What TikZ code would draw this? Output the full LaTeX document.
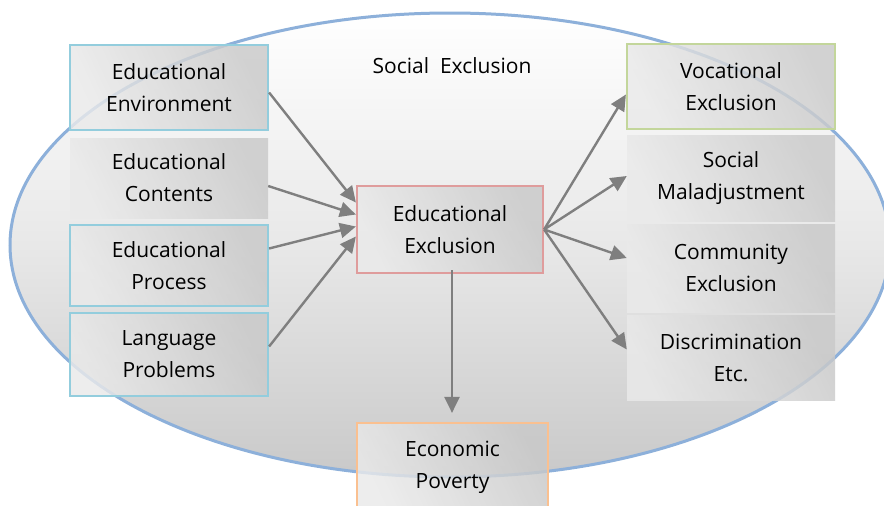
\documentclass[tikz,border=0pt]{standalone}
\usepackage{fontspec}
\setmainfont{Open Sans}
\usetikzlibrary{arrows.meta,calc}

\definecolor{ringblue}{HTML}{8DB0DA}
\definecolor{edgecyan}{HTML}{93CDDD}
\definecolor{edgerose}{HTML}{DF9C9C}
\definecolor{edgegreen}{HTML}{C3D69B}
\definecolor{edgepeach}{HTML}{FAC090}
\definecolor{arrowgray}{HTML}{7F7F7F}
\definecolor{boxlight}{HTML}{EAEAEA}
\definecolor{boxdark}{HTML}{C9C9C9}

\tikzset{
  card/.style={rectangle, inner sep=0pt, align=center,
    font=\fontsize{21}{32}\selectfont,
    left color=boxlight, right color=boxdark, shading angle=115,
    fill opacity=0.82, text opacity=1},
  framed/.style={draw=#1, line width=2.2pt, draw opacity=1},
  link/.style={draw=arrowgray, line width=2.4pt,
    -{Triangle[length=16pt,width=15pt]}},
}

\begin{document}
\begin{tikzpicture}[x=1pt,y=-1pt]
  \useasboundingbox (0,0) rectangle (884,506);
  \clip (0,0) rectangle (884,506);
  \fill[white] (0,0) rectangle (884,506);

  % the surrounding social-exclusion field
  \shade[top color=white, bottom color=boxdark, middle color=black!9]
    (450,245) ellipse [x radius=440, y radius=232];
  \draw[ringblue, line width=3pt] (450,245) ellipse [x radius=440, y radius=232];

  \node[font=\fontsize{21}{32}\selectfont] (title) at (452,66) {Social\ \ Exclusion};

  % causes
  \node[card, framed=edgecyan, minimum width=198, minimum height=85] (env)  at (169,87.5)  {Educational\\Environment};
  \node[card, minimum width=198, minimum height=80]                  (cont) at (169,178)   {Educational\\Contents};
  \node[card, framed=edgecyan, minimum width=198, minimum height=81] (proc) at (169,265.5) {Educational\\Process};
  \node[card, framed=edgecyan, minimum width=198, minimum height=83] (lang) at (169,354.5) {Language\\Problems};

  % hub
  \node[card, framed=edgerose, minimum width=186, minimum height=87] (ee) at (450,229.5) {Educational\\Exclusion};

  % consequences
  \node[card, framed=edgegreen, minimum width=208, minimum height=85] (voc)  at (731,86.5)  {Vocational\\Exclusion};
  \node[card, minimum width=208, minimum height=86]                   (soc)  at (731,178)   {Social\\Maladjustment};
  \node[card, minimum width=208, minimum height=88]                   (com)  at (731,268)   {Community\\Exclusion};
  \node[card, minimum width=208, minimum height=85]                   (disc) at (731,357.5) {Discrimination\\Etc.};
  \node[card, framed=edgepeach, minimum width=191, minimum height=88] (ep) at (452.5,467) {Economic\\Poverty};

  % causes feed the hub (shifts are in page units: negative is downward)
  \draw[link] ([yshift=-5]env.east)   -- ([yshift=27]ee.west);
  \draw[link] ([yshift=-8]cont.east)  -- ([yshift=15]ee.west);
  \draw[link] ([yshift=17]proc.east)  -- ([yshift=3]ee.west);
  \draw[link] ([yshift=8]lang.east)   -- ([yshift=-7]ee.west);

  % hub drives the consequences
  \draw[link] (ee.east) -- ([yshift=-8]voc.west);
  \draw[link] (ee.east) -- ([yshift=2]soc.west);
  \draw[link] (ee.east) -- ([yshift=10]com.west);
  \draw[link] (ee.east) -- ([yshift=8]disc.west);

  % and economic poverty follows
  \draw[link] ([xshift=2,yshift=4]ee.south) -- ([xshift=2,yshift=9]ee.south |- ep.north);
\end{tikzpicture}
\end{document}
